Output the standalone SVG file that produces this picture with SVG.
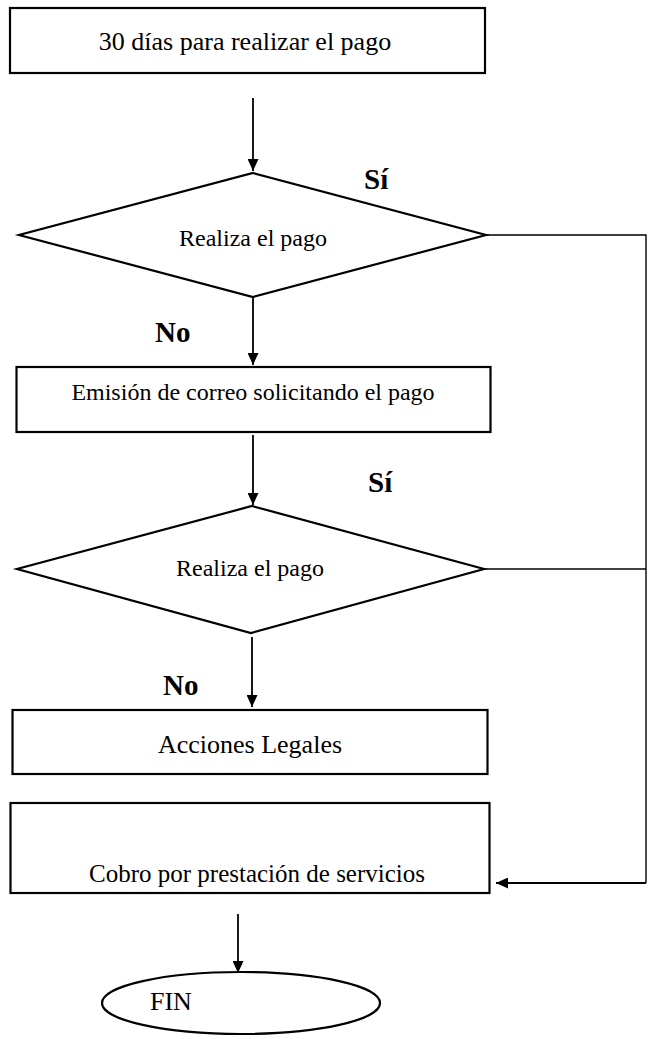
<svg xmlns="http://www.w3.org/2000/svg" width="649" height="1039" viewBox="0 0 649 1039">
<style>
.box{fill:#fff;stroke:#000;stroke-width:2.2}
.dia{fill:#fff;stroke:#000;stroke-width:2.2}
.t{font-family:"Liberation Serif","Times New Roman",serif;fill:#000;text-anchor:middle}
.lbl{font-family:"Liberation Serif","Times New Roman",serif;font-weight:bold;fill:#000}
.arr{fill:none;stroke:#000;stroke-width:1.8;marker-end:url(#ah)}
.ln{fill:none;stroke:#000;stroke-width:1.4}
</style>
<defs>
<marker id="ah" markerUnits="userSpaceOnUse" markerWidth="12" markerHeight="11" refX="12" refY="5.5" orient="auto">
<path d="M0,0 L12,5.5 L0,11 z" fill="#000"/>
</marker>
</defs>
<g id="n1">
<rect class="box" x="10" y="8" width="475" height="65"/>
<text class="t" x="245" y="50" font-size="26">30 días para realizar el pago</text>
</g>
<g id="d1">
<polygon class="dia" points="253,173 486,235 253,297 19,235"/>
<text class="t" x="253" y="246" font-size="24">Realiza el pago</text>
</g>
<g id="n2">
<rect class="box" x="16.5" y="367" width="474" height="65"/>
<text class="t" x="253" y="400" font-size="24">Emisión de correo solicitando el pago</text>
</g>
<g id="d2">
<polygon class="dia" points="252,506 484,569 251,633 17,569"/>
<text class="t" x="250" y="576" font-size="24">Realiza el pago</text>
</g>
<g id="n3">
<rect class="box" x="12.5" y="710" width="475" height="64"/>
<text class="t" x="250" y="753" font-size="26">Acciones Legales</text>
</g>
<g id="n4">
<rect class="box" x="10.5" y="803" width="479" height="90"/>
<text class="t" x="257" y="882" font-size="25">Cobro por prestación de servicios</text>
</g>
<g id="end">
<ellipse class="box" cx="241" cy="1003" rx="139" ry="31"/>
<text class="t" x="150" y="1010" font-size="26" style="text-anchor:start">FIN</text>
</g>
<g id="connectors">
<path class="arr" d="M253,98 L253,171"/>
<path class="arr" d="M253,297 L253,365"/>
<path class="arr" d="M253,435 L253,505"/>
<path class="arr" d="M252,637 L252,707"/>
<path class="arr" d="M238,914 L238,973"/>
<path class="ln" d="M486,235 L646,235 L646,883"/>
<path class="ln" d="M484,569 L646,569"/>
<path class="arr" d="M646,883 L496,883"/>
</g>
<g id="labels">
<text class="lbl" x="364" y="189" font-size="29">Sí</text>
<text class="lbl" x="155" y="342" font-size="29">No</text>
<text class="lbl" x="368" y="492" font-size="29">Sí</text>
<text class="lbl" x="163" y="695" font-size="29">No</text>
</g>
</svg>
